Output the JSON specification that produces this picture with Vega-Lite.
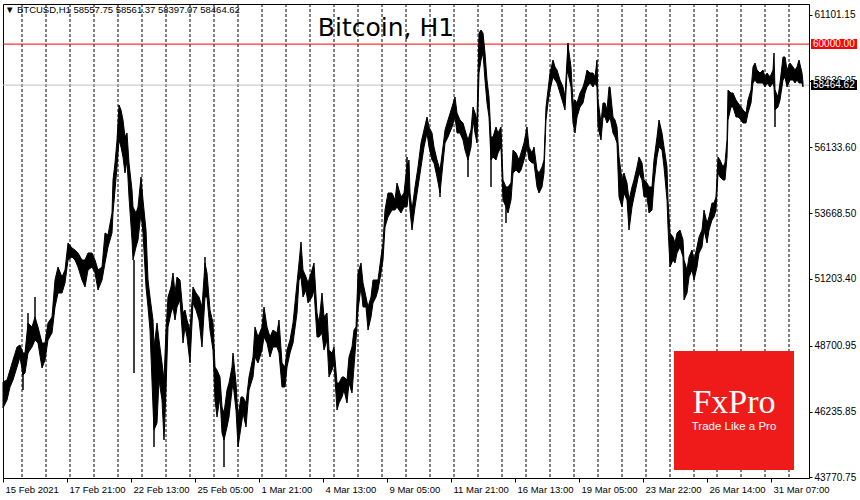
{
  "$schema": "https://vega.github.io/schema/vega-lite/v6.json",
  "width": 806,
  "height": 474,
  "autosize": {"type": "none"},
  "padding": {"left": 3, "top": 4, "right": 51, "bottom": 22},
  "background": "#ffffff",
  "config": {"view": {"stroke": "#000000", "strokeWidth": 1}, "font": "Liberation Sans"},
  "resolve": {"scale": {"color": "independent"}},
  "datasets": {
    "price": [
      {"b":0,"lo":46368,"hi":47342},{"b":4,"lo":46668,"hi":47417},{"b":7,"lo":47155,"hi":47792},{"b":10,"lo":47417,"hi":48166},
      {"b":14,"lo":47904,"hi":48653},{"b":17,"lo":48279,"hi":48728},{"b":20,"lo":47604,"hi":48428},{"b":22,"lo":47679,"hi":48428},
      {"b":25,"lo":48428,"hi":49552},{"b":29,"lo":48653,"hi":49403},{"b":32,"lo":48916,"hi":49777},{"b":35,"lo":48803,"hi":49403},
      {"b":39,"lo":47867,"hi":48803},{"b":42,"lo":48166,"hi":48803},{"b":45,"lo":48916,"hi":49552},{"b":49,"lo":49178,"hi":49777},
      {"b":52,"lo":50152,"hi":51163},{"b":55,"lo":50676,"hi":51650},{"b":59,"lo":50676,"hi":51276},{"b":62,"lo":51051,"hi":51538},
      {"b":65,"lo":51912,"hi":52549},{"b":69,"lo":52025,"hi":52362},{"b":72,"lo":51912,"hi":52287},{"b":75,"lo":51650,"hi":52175},
      {"b":79,"lo":51163,"hi":51912},{"b":82,"lo":50901,"hi":51912},{"b":85,"lo":51538,"hi":52175},{"b":89,"lo":51650,"hi":52175},
      {"b":92,"lo":51426,"hi":51912},{"b":95,"lo":50789,"hi":51538},{"b":99,"lo":51163,"hi":51650},{"b":102,"lo":51800,"hi":52924},
      {"b":105,"lo":52399,"hi":52849},{"b":109,"lo":52924,"hi":53673},{"b":110,"lo":53673,"hi":54909},{"b":112,"lo":54535,"hi":55546},
      {"b":114,"lo":55396,"hi":56408},{"b":116,"lo":56408,"hi":57719},{"b":118,"lo":56145,"hi":57531},{"b":120,"lo":55771,"hi":57157},
      {"b":122,"lo":55171,"hi":56520},{"b":124,"lo":55658,"hi":56670},{"b":126,"lo":54272,"hi":55546},{"b":129,"lo":52662,"hi":54535},
      {"b":130,"lo":51912,"hi":53898},{"b":133,"lo":52399,"hi":53673},{"b":135,"lo":52662,"hi":53898},{"b":138,"lo":53673,"hi":55022},
      {"b":140,"lo":52924,"hi":54160},{"b":143,"lo":50901,"hi":53036},{"b":145,"lo":50152,"hi":51163},{"b":147,"lo":49290,"hi":50526},
      {"b":150,"lo":46406,"hi":49665},{"b":151,"lo":45544,"hi":48653},{"b":154,"lo":45807,"hi":49552},{"b":156,"lo":47417,"hi":48916},
      {"b":159,"lo":46668,"hi":48054},{"b":161,"lo":45170,"hi":47417},{"b":163,"lo":47043,"hi":49290},{"b":165,"lo":49403,"hi":50526},
      {"b":168,"lo":49927,"hi":50901},{"b":170,"lo":50152,"hi":51426},{"b":172,"lo":49665,"hi":50676},{"b":174,"lo":50152,"hi":51276},
      {"b":177,"lo":50414,"hi":51163},{"b":180,"lo":48803,"hi":49927},{"b":182,"lo":49403,"hi":50039},{"b":184,"lo":49028,"hi":49665},
      {"b":187,"lo":48054,"hi":49290},{"b":190,"lo":50302,"hi":50901},{"b":193,"lo":50039,"hi":50676},{"b":196,"lo":49665,"hi":50526},
      {"b":199,"lo":48653,"hi":50152},{"b":202,"lo":50526,"hi":51800},{"b":204,"lo":50526,"hi":51426},{"b":207,"lo":49290,"hi":50039},
      {"b":210,"lo":48541,"hi":49552},{"b":212,"lo":46668,"hi":47904},{"b":214,"lo":46031,"hi":47792},{"b":217,"lo":46781,"hi":47530},
      {"b":219,"lo":45432,"hi":46406},{"b":221,"lo":45170,"hi":46181},{"b":224,"lo":45657,"hi":47043},{"b":226,"lo":46031,"hi":47305},
      {"b":229,"lo":47043,"hi":47904},{"b":230,"lo":47305,"hi":48428},{"b":233,"lo":46293,"hi":47305},{"b":235,"lo":44908,"hi":46031},
      {"b":238,"lo":45657,"hi":46781},{"b":240,"lo":46181,"hi":46781},{"b":243,"lo":45657,"hi":46556},{"b":246,"lo":47043,"hi":47530},
      {"b":250,"lo":47530,"hi":48279},{"b":252,"lo":48279,"hi":49403},{"b":255,"lo":48054,"hi":49028},{"b":259,"lo":48541,"hi":49403},
      {"b":261,"lo":49028,"hi":50152},{"b":264,"lo":48803,"hi":49403},{"b":267,"lo":48279,"hi":49028},{"b":270,"lo":48653,"hi":49290},
      {"b":274,"lo":48653,"hi":49178},{"b":276,"lo":48428,"hi":49665},{"b":279,"lo":47155,"hi":48054},{"b":282,"lo":47155,"hi":47904},
      {"b":284,"lo":47904,"hi":48541},{"b":287,"lo":48428,"hi":48916},{"b":290,"lo":48803,"hi":49552},{"b":294,"lo":49927,"hi":51051},
      {"b":296,"lo":51163,"hi":51800},{"b":298,"lo":51276,"hi":52587},{"b":300,"lo":50526,"hi":51538},{"b":303,"lo":50789,"hi":51276},
      {"b":305,"lo":50302,"hi":51051},{"b":309,"lo":50526,"hi":51538},{"b":311,"lo":50789,"hi":51800},{"b":314,"lo":49028,"hi":49927},
      {"b":316,"lo":49028,"hi":49552},{"b":319,"lo":49178,"hi":50676},{"b":321,"lo":48541,"hi":49777},{"b":324,"lo":48916,"hi":49927},
      {"b":326,"lo":47530,"hi":48541},{"b":329,"lo":47792,"hi":48428},{"b":331,"lo":48054,"hi":48653},{"b":334,"lo":46293,"hi":47305},
      {"b":336,"lo":46556,"hi":47305},{"b":339,"lo":46781,"hi":47530},{"b":341,"lo":47043,"hi":47530},{"b":344,"lo":46556,"hi":47417},
      {"b":346,"lo":47305,"hi":48279},{"b":349,"lo":46930,"hi":48653},{"b":351,"lo":47904,"hi":49290},{"b":353,"lo":48916,"hi":49403},
      {"b":355,"lo":50039,"hi":51426},{"b":358,"lo":50901,"hi":51800},{"b":360,"lo":50152,"hi":51051},{"b":363,"lo":50152,"hi":50526},
      {"b":365,"lo":49290,"hi":50152},{"b":368,"lo":49777,"hi":50526},{"b":370,"lo":50302,"hi":51163},{"b":373,"lo":50526,"hi":51163},
      {"b":375,"lo":50789,"hi":51163},{"b":378,"lo":51426,"hi":52025},{"b":380,"lo":51912,"hi":52549},{"b":382,"lo":53149,"hi":53785},
      {"b":385,"lo":53523,"hi":54422},{"b":389,"lo":53785,"hi":54422},{"b":392,"lo":53785,"hi":54160},{"b":394,"lo":53898,"hi":54797},
      {"b":398,"lo":53673,"hi":54272},{"b":401,"lo":53898,"hi":54422},{"b":404,"lo":53898,"hi":55471},{"b":406,"lo":54535,"hi":55658},
      {"b":407,"lo":53785,"hi":54422},{"b":409,"lo":53036,"hi":53785},{"b":412,"lo":53898,"hi":54647},{"b":415,"lo":54647,"hi":55396},
      {"b":418,"lo":55396,"hi":56295},{"b":421,"lo":56145,"hi":56782},{"b":424,"lo":56670,"hi":57269},{"b":426,"lo":56145,"hi":56895},
      {"b":429,"lo":55658,"hi":56670},{"b":431,"lo":55546,"hi":56145},{"b":434,"lo":55022,"hi":55658},{"b":437,"lo":54422,"hi":55284},
      {"b":440,"lo":55546,"hi":56145},{"b":442,"lo":56295,"hi":56782},{"b":445,"lo":56520,"hi":57157},{"b":449,"lo":56895,"hi":57644},
      {"b":452,"lo":57269,"hi":58018},{"b":454,"lo":56670,"hi":57419},{"b":457,"lo":56670,"hi":57157},{"b":460,"lo":56408,"hi":57044},
      {"b":462,"lo":56033,"hi":56782},{"b":465,"lo":55658,"hi":56408},{"b":468,"lo":56145,"hi":56782},{"b":470,"lo":57157,"hi":57644},
      {"b":472,"lo":56670,"hi":57419},{"b":474,"lo":56295,"hi":57157},{"b":476,"lo":58917,"hi":60416},{"b":478,"lo":59404,"hi":60528},
      {"b":480,"lo":59667,"hi":60416},{"b":482,"lo":58655,"hi":59667},{"b":484,"lo":57794,"hi":58655},{"b":486,"lo":57269,"hi":58018},
      {"b":488,"lo":55658,"hi":56520},{"b":490,"lo":55771,"hi":56520},{"b":493,"lo":55658,"hi":56895},{"b":495,"lo":55921,"hi":56670},
      {"b":498,"lo":56145,"hi":56895},{"b":500,"lo":54160,"hi":54909},{"b":503,"lo":53898,"hi":54647},{"b":505,"lo":53673,"hi":54647},
      {"b":508,"lo":54160,"hi":54797},{"b":510,"lo":55171,"hi":56033},{"b":513,"lo":55284,"hi":55921},{"b":516,"lo":55171,"hi":55658},
      {"b":518,"lo":55284,"hi":55921},{"b":521,"lo":55658,"hi":56295},{"b":524,"lo":56145,"hi":56895},{"b":526,"lo":55658,"hi":56145},
      {"b":529,"lo":55546,"hi":55921},{"b":531,"lo":55546,"hi":56145},{"b":534,"lo":54647,"hi":55284},{"b":536,"lo":54422,"hi":55171},
      {"b":539,"lo":54647,"hi":55396},{"b":541,"lo":55171,"hi":55658},{"b":543,"lo":57157,"hi":57644},{"b":545,"lo":57794,"hi":58281},
      {"b":547,"lo":58281,"hi":58917},{"b":550,"lo":58768,"hi":59404},{"b":552,"lo":58655,"hi":59142},{"b":554,"lo":58543,"hi":59030},
      {"b":557,"lo":58168,"hi":58655},{"b":560,"lo":57794,"hi":58393},{"b":562,"lo":57531,"hi":58018},{"b":564,"lo":58917,"hi":59404},
      {"b":565,"lo":58917,"hi":59967},{"b":568,"lo":58393,"hi":59142},{"b":570,"lo":57044,"hi":57794},{"b":572,"lo":56670,"hi":57906},
      {"b":574,"lo":57269,"hi":57794},{"b":577,"lo":57644,"hi":58168},{"b":580,"lo":57794,"hi":58393},{"b":582,"lo":58168,"hi":58655},
      {"b":584,"lo":58393,"hi":59030},{"b":587,"lo":58543,"hi":58917},{"b":590,"lo":58393,"hi":58917},{"b":592,"lo":58543,"hi":58768},
      {"b":594,"lo":58393,"hi":59404},{"b":595,"lo":56895,"hi":57906},{"b":598,"lo":56408,"hi":57044},{"b":600,"lo":57269,"hi":57794},
      {"b":602,"lo":57269,"hi":57794},{"b":604,"lo":57044,"hi":57531},{"b":606,"lo":57157,"hi":58393},{"b":607,"lo":57269,"hi":58393},
      {"b":610,"lo":56670,"hi":57269},{"b":612,"lo":56520,"hi":57157},{"b":614,"lo":56295,"hi":56895},{"b":616,"lo":54272,"hi":55771},
      {"b":619,"lo":53898,"hi":54909},{"b":621,"lo":54422,"hi":55171},{"b":624,"lo":54160,"hi":54797},{"b":626,"lo":53036,"hi":54160},
      {"b":629,"lo":53898,"hi":54647},{"b":631,"lo":54272,"hi":54909},{"b":634,"lo":54797,"hi":55396},{"b":636,"lo":55171,"hi":55771},
      {"b":639,"lo":54909,"hi":55546},{"b":641,"lo":54272,"hi":54909},{"b":644,"lo":54272,"hi":54797},{"b":646,"lo":53673,"hi":54647},
      {"b":649,"lo":53785,"hi":54647},{"b":651,"lo":54797,"hi":55658},{"b":654,"lo":55771,"hi":56520},{"b":656,"lo":56145,"hi":57157},
      {"b":659,"lo":56033,"hi":56670},{"b":661,"lo":55396,"hi":56145},{"b":664,"lo":54160,"hi":55396},{"b":665,"lo":53149,"hi":54160},
      {"b":667,"lo":51650,"hi":52924},{"b":670,"lo":51912,"hi":52774},{"b":672,"lo":51800,"hi":52549},{"b":674,"lo":52175,"hi":52924},
      {"b":677,"lo":52399,"hi":53036},{"b":680,"lo":52025,"hi":52662},{"b":681,"lo":50414,"hi":51912},{"b":684,"lo":50676,"hi":51538},
      {"b":686,"lo":51276,"hi":52025},{"b":689,"lo":51538,"hi":52287},{"b":691,"lo":51163,"hi":51912},{"b":694,"lo":51650,"hi":52399},
      {"b":696,"lo":52175,"hi":52774},{"b":699,"lo":52399,"hi":53036},{"b":701,"lo":53036,"hi":53785},{"b":704,"lo":52549,"hi":53298},
      {"b":706,"lo":53036,"hi":53523},{"b":709,"lo":53411,"hi":54048},{"b":711,"lo":53523,"hi":54048},{"b":713,"lo":53785,"hi":54272},
      {"b":715,"lo":55171,"hi":55771},{"b":717,"lo":55022,"hi":55658},{"b":720,"lo":54909,"hi":55396},{"b":722,"lo":54909,"hi":55546},
      {"b":724,"lo":55771,"hi":56408},{"b":725,"lo":57157,"hi":58281},{"b":728,"lo":57644,"hi":58168},{"b":730,"lo":57644,"hi":58168},
      {"b":733,"lo":57269,"hi":57906},{"b":735,"lo":57269,"hi":57794},{"b":738,"lo":57157,"hi":57644},{"b":740,"lo":57044,"hi":57531},
      {"b":743,"lo":57044,"hi":57419},{"b":745,"lo":57419,"hi":57906},{"b":748,"lo":57794,"hi":58281},{"b":750,"lo":58543,"hi":59142},
      {"b":752,"lo":58655,"hi":59292},{"b":754,"lo":58543,"hi":59030},{"b":757,"lo":58543,"hi":58917},{"b":760,"lo":58543,"hi":59030},
      {"b":762,"lo":58393,"hi":58768},{"b":764,"lo":58543,"hi":58917},{"b":767,"lo":58393,"hi":58768},{"b":770,"lo":58543,"hi":59030},
      {"b":771,"lo":58393,"hi":59667},{"b":772,"lo":57531,"hi":58281},{"b":775,"lo":57644,"hi":58018},{"b":777,"lo":57906,"hi":58543},
      {"b":780,"lo":58655,"hi":59517},{"b":782,"lo":58768,"hi":59517},{"b":784,"lo":58393,"hi":59030},{"b":787,"lo":58655,"hi":59292},
      {"b":790,"lo":58655,"hi":59142},{"b":792,"lo":58543,"hi":59030},{"b":794,"lo":58655,"hi":59142},{"b":796,"lo":58543,"hi":59404},
      {"b":799,"lo":58543,"hi":58917},{"b":800,"lo":58397,"hi":58561}
    ],
    "wicks": [
      {"b":20,"lo":47043,"hi":48428},{"b":25,"lo":48428,"hi":49927},{"b":32,"lo":48916,"hi":50526},{"b":131,"lo":47679,"hi":51912},
      {"b":151,"lo":44908,"hi":48653},{"b":202,"lo":50526,"hi":52025},{"b":221,"lo":44158,"hi":46181},{"b":404,"lo":54535,"hi":55771},
      {"b":437,"lo":54272,"hi":55284},{"b":465,"lo":55022,"hi":56408},{"b":488,"lo":54647,"hi":56520},{"b":503,"lo":53298,"hi":54647},
      {"b":565,"lo":58917,"hi":60041},{"b":772,"lo":56895,"hi":58281}
    ],
    "days": [
      {"b":19},{"b":43},{"b":67},{"b":91},{"b":115},{"b":139},{"b":163},{"b":187},{"b":211},{"b":235},{"b":259},{"b":283},{"b":307},{"b":331},{"b":355},{"b":379},{"b":403},{"b":427},{"b":451},{"b":475},{"b":499},{"b":523},{"b":547},{"b":571},{"b":595},{"b":619},{"b":643},{"b":667},{"b":691},{"b":714},{"b":738},{"b":762},{"b":786}
    ],
    "levels": [
      {"p":60000,"label":"60000.00","kind":"alert","b1":808,"b2":854,"bt":810},
      {"p":58464.62,"label":"58464.62","kind":"bid","b1":808,"b2":854,"bt":810}
    ],
    "logo": [{"b1":671,"b2":791,"p1":44046,"p2":48504}],
    "logoText": [
      {"b":731,"p":46181,"t":"FxPro","kind":"brand"},
      {"b":731,"p":45544,"t":"Trade Like a Pro","kind":"tag"}
    ],
    "titleText": [{"b":383,"p":60303,"t":"Bitcoin, H1"}],
    "header": [{"b":14,"p":61277,"t":"BTCUSD,H1  58557.75 58561.37 58397.07 58464.62"},{"b":2,"p":61277,"t":"▼"}]
  },
  "layer": [
    {
      "data": {"name": "days"},
      "mark": {"type": "rule", "color": "#000000", "strokeWidth": 1, "strokeDash": [3, 2]},
      "encoding": {
        "x": {"field": "b", "type": "quantitative", "scale": {"domain": [0, 806], "nice": false, "zero": false}, "axis": {"title": null}}
      }
    },
    {
      "data": {"name": "levels"},
      "mark": {"type": "rule", "strokeWidth": 1},
      "encoding": {
        "y": {"field": "p", "type": "quantitative", "axis": {"title": null}},
        "color": {"field": "kind", "type": "nominal", "scale": {"domain": ["alert", "bid"], "range": ["#ff0000", "#c0c0c0"]}, "legend": null}
      }
    },
    {
      "data": {"name": "titleText"},
      "mark": {"type": "text", "color": "#000000", "align": "center", "baseline": "alphabetic", "font": "DejaVu Sans", "fontSize": 25},
      "encoding": {
        "x": {"field": "b", "type": "quantitative"},
        "y": {"field": "p", "type": "quantitative"},
        "text": {"field": "t"}
      }
    },
    {
      "data": {"name": "price"},
      "mark": {"type": "area", "color": "#000000", "stroke": "#000000", "strokeWidth": 1, "opacity": 1, "interpolate": "linear"},
      "encoding": {
        "x": {
          "field": "b", "type": "quantitative",
          "scale": {"domain": [0, 806], "nice": false, "zero": false},
          "axis": {
            "title": null, "grid": false, "domain": true, "domainColor": "#000000",
            "values": [0,32,64,96,128,160,192,224,256,288,320,352,384,416,448,480,512,544,576,608,640,672,704,736,768,800],
            "labelExpr": "datum.value % 64 == 0 ? ['15 Feb 2021','17 Feb 21:00','22 Feb 13:00','25 Feb 05:00','1 Mar 21:00','4 Mar 13:00','9 Mar 05:00','11 Mar 21:00','16 Mar 13:00','19 Mar 05:00','23 Mar 22:00','26 Mar 14:00','31 Mar 07:00'][datum.value / 64] : ''",
            "labelAlign": "left", "labelOffset": 2, "labelPadding": 2, "labelBaseline": "top",
            "labelOverlap": false, "labelFlush": false, "labelBound": false,
            "labelColor": "#000000", "labelFont": "Liberation Sans", "labelFontSize": 9.5,
            "tickColor": "#000000", "tickSize": 4, "tickWidth": 1, "zindex": 0
          }
        },
        "y": {
          "field": "lo", "type": "quantitative",
          "scale": {"domain": [43746, 61502], "nice": false, "zero": false},
          "axis": {
            "title": null, "orient": "right", "grid": false, "domainColor": "#000000",
            "values": [43770.75, 45003.30, 46235.85, 47468.40, 48700.95, 49933.50, 51203.40, 52435.95, 53668.50, 54901.05, 56133.60, 57366.15, 58636.05, 59868.60, 61101.15],
            "format": ".2f", "labelColor": "#000000", "labelFont": "Liberation Sans", "labelFontSize": 10,
            "labelPadding": 2, "labelOverlap": false, "labelBound": false, "labelFlush": false,
            "tickColor": "#000000", "tickSize": 3, "tickWidth": 1, "zindex": 0
          }
        },
        "y2": {"field": "hi"}
      }
    },
    {
      "data": {"name": "wicks"},
      "mark": {"type": "rule", "color": "#000000", "strokeWidth": 1.5},
      "encoding": {
        "x": {"field": "b", "type": "quantitative"},
        "y": {"field": "lo", "type": "quantitative"},
        "y2": {"field": "hi"}
      }
    },
    {
      "data": {"name": "logo"},
      "mark": {"type": "rect", "color": "#ef1b1b"},
      "encoding": {
        "x": {"field": "b1", "type": "quantitative"},
        "x2": {"field": "b2"},
        "y": {"field": "p1", "type": "quantitative"},
        "y2": {"field": "p2"}
      }
    },
    {
      "data": {"name": "logoText"},
      "transform": [{"filter": "datum.kind == 'brand'"}],
      "mark": {"type": "text", "color": "#ffffff", "align": "center", "baseline": "alphabetic", "font": "Liberation Serif", "fontSize": 34},
      "encoding": {
        "x": {"field": "b", "type": "quantitative"},
        "y": {"field": "p", "type": "quantitative"},
        "text": {"field": "t"}
      }
    },
    {
      "data": {"name": "logoText"},
      "transform": [{"filter": "datum.kind == 'tag'"}],
      "mark": {"type": "text", "color": "#ffffff", "align": "center", "baseline": "alphabetic", "font": "Liberation Sans", "fontSize": 11.5},
      "encoding": {
        "x": {"field": "b", "type": "quantitative"},
        "y": {"field": "p", "type": "quantitative"},
        "text": {"field": "t"}
      }
    },
    {
      "data": {"name": "levels"},
      "mark": {"type": "rule", "strokeWidth": 10, "strokeCap": "butt", "zindex": 2},
      "encoding": {
        "x": {"field": "b1", "type": "quantitative"},
        "x2": {"field": "b2"},
        "y": {"field": "p", "type": "quantitative"},
        "color": {"field": "kind", "type": "nominal", "scale": {"domain": ["alert", "bid"], "range": ["#ff0000", "#000000"]}, "legend": null}
      }
    },
    {
      "data": {"name": "levels"},
      "mark": {"type": "text", "color": "#ffffff", "align": "left", "baseline": "middle", "font": "Liberation Sans", "fontSize": 10, "zindex": 3},
      "encoding": {
        "x": {"field": "bt", "type": "quantitative"},
        "y": {"field": "p", "type": "quantitative"},
        "text": {"field": "label"}
      }
    },
    {
      "data": {"name": "header"},
      "mark": {"type": "text", "color": "#000000", "align": "left", "baseline": "middle", "font": "Liberation Sans", "fontSize": 9.5},
      "encoding": {
        "x": {"field": "b", "type": "quantitative"},
        "y": {"field": "p", "type": "quantitative"},
        "text": {"field": "t"}
      }
    }
  ]
}
